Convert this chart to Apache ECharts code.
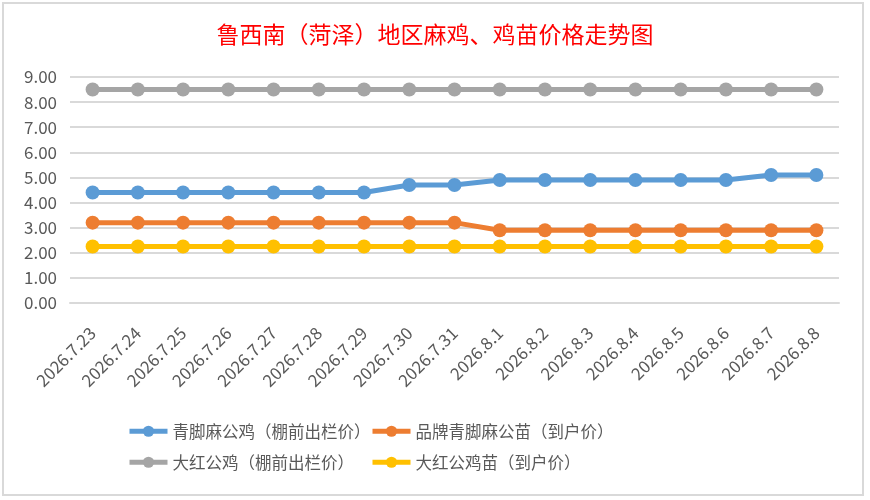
<!DOCTYPE html>
<html>
<head>
<meta charset="utf-8">
<script src="https://cdn.jsdelivr.net/npm/echarts@6/dist/echarts.min.js"></script>
<style>
  html, body { margin: 0; padding: 0; background: #fff; }
  #chart { width: 870px; height: 500px; }
</style>
</head>
<body>
<div id="chart"></div>
<script>
  var dates = ['2026.7.23', '2026.7.24', '2026.7.25', '2026.7.26', '2026.7.27', '2026.7.28', '2026.7.29',
    '2026.7.30', '2026.7.31', '2026.8.1', '2026.8.2', '2026.8.3', '2026.8.4', '2026.8.5', '2026.8.6',
    '2026.8.7', '2026.8.8'];
  var names = ['青脚麻公鸡（棚前出栏价）', '品牌青脚麻公苗（到户价）', '大红公鸡（棚前出栏价）', '大红公鸡苗（到户价）'];
  var qingjiao = [4.4, 4.4, 4.4, 4.4, 4.4, 4.4, 4.4, 4.7, 4.7, 4.9, 4.9, 4.9, 4.9, 4.9, 4.9, 5.1, 5.1];
  var qingjiaoMiao = [3.2, 3.2, 3.2, 3.2, 3.2, 3.2, 3.2, 3.2, 3.2, 2.9, 2.9, 2.9, 2.9, 2.9, 2.9, 2.9, 2.9];
  var dahong = [8.5, 8.5, 8.5, 8.5, 8.5, 8.5, 8.5, 8.5, 8.5, 8.5, 8.5, 8.5, 8.5, 8.5, 8.5, 8.5, 8.5];
  var dahongMiao = [2.25, 2.25, 2.25, 2.25, 2.25, 2.25, 2.25, 2.25, 2.25, 2.25, 2.25, 2.25, 2.25, 2.25, 2.25, 2.25, 2.25];
  var colors = ['#5b9bd5', '#ed7d31', '#a5a5a5', '#ffc000'];
  var values = [qingjiao, qingjiaoMiao, dahong, dahongMiao];

  var font = '"Noto Sans CJK SC", "Noto Sans", sans-serif';
  var myChart = echarts.init(document.getElementById('chart'));

  function legendAt(i, left, top) {
    return {
      data: [names[i]],
      left: left,
      top: top,
      padding: 0,
      itemWidth: 38,
      itemHeight: 14,
      itemGap: 0,
      lineStyle: { width: 5 },
      textStyle: { color: '#595959', fontSize: 16.5, fontFamily: font }
    };
  }

  myChart.setOption({
    animation: false,
    color: colors,
    graphic: [{
      type: 'rect',
      shape: { x: 3, y: 3, width: 860, height: 492 },
      style: { fill: 'none', stroke: '#d9d9d9', lineWidth: 2 },
      silent: true,
      z: -1
    }],
    title: {
      text: '鲁西南（菏泽）地区麻鸡、鸡苗价格走势图',
      left: 'center',
      top: 18,
      textStyle: { color: '#ff0000', fontSize: 23, fontWeight: 'normal', fontFamily: font }
    },
    legend: [
      legendAt(0, 127, 423),
      legendAt(1, 370, 423),
      legendAt(2, 127, 454),
      legendAt(3, 370, 454)
    ],
    grid: { left: 70, right: 31, top: 77, bottom: 197 },
    xAxis: {
      type: 'category',
      data: dates,
      boundaryGap: true,
      axisLine: { lineStyle: { color: '#d9d9d9', width: 2 } },
      axisTick: { show: false },
      axisLabel: { rotate: 45, color: '#595959', fontSize: 17, fontFamily: font, margin: 27, interval: 0 }
    },
    yAxis: {
      type: 'value',
      min: 0,
      max: 9,
      interval: 1,
      axisLine: { show: false },
      axisTick: { show: false },
      splitLine: { lineStyle: { color: '#d9d9d9', width: 2 } },
      axisLabel: {
        color: '#595959', fontSize: 17, fontFamily: font, margin: 13,
        formatter: function (v) { return v.toFixed(2); }
      }
    },
    series: values.map(function (d, i) {
      return {
        name: names[i],
        type: 'line',
        data: d,
        symbol: 'circle',
        symbolSize: 14,
        lineStyle: { width: 5, color: colors[i] },
        itemStyle: { color: colors[i] }
      };
    })
  });
</script>
</body>
</html>
